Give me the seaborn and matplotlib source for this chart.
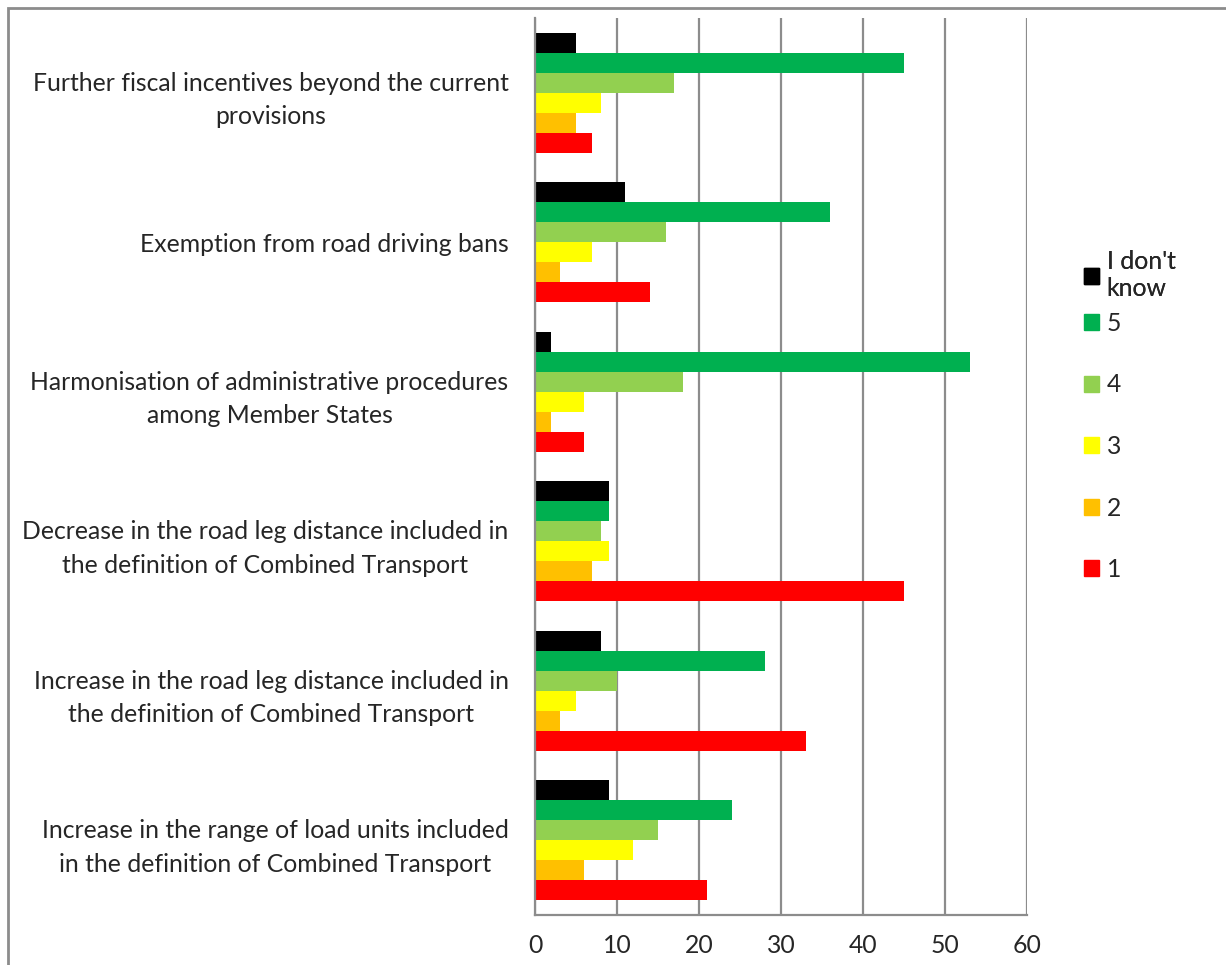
import matplotlib
matplotlib.use("Agg")
import matplotlib.pyplot as plt
import matplotlib.patches as mpatches
import seaborn as sns
import pandas as pd

# Survey measures (top to bottom) and the answer scale
measures = [
    "Further fiscal incentives beyond the current\nprovisions",
    "Exemption from road driving bans",
    "Harmonisation of administrative procedures\namong Member States",
    "Decrease in the road leg distance included in\nthe definition of Combined Transport",
    "Increase in the road leg distance included in\nthe definition of Combined Transport",
    "Increase in the range of load units included\nin the definition of Combined Transport",
]
answers = ["I don't know", "5", "4", "3", "2", "1"]
legend_labels = ["I don't\nknow", "5", "4", "3", "2", "1"]

# Number of responses per measure for each answer
dont_know = [5, 11, 2, 9, 8, 9]
score_5 = [45, 36, 53, 9, 28, 24]
score_4 = [17, 16, 18, 8, 10, 15]
score_3 = [8, 7, 6, 9, 5, 12]
score_2 = [5, 3, 2, 7, 3, 6]
score_1 = [7, 14, 6, 45, 33, 21]

colors = ["#000000", "#00B050", "#92D050", "#FFFF00", "#FFC000", "#FF0000"]

series = [dont_know, score_5, score_4, score_3, score_2, score_1]
rows = []
for ans, vals in zip(answers, series):
    for m, v in zip(measures, vals):
        rows.append({"measure": m, "answer": ans, "count": v})
df = pd.DataFrame(rows)

sns.set_theme(style="white")
plt.rcParams["font.family"] = ["Lato", "DejaVu Sans"]
FS = 17.8

fig = plt.figure(figsize=(12.26, 9.65), dpi=100)
ax = fig.add_axes([535 / 1226, 1 - 915 / 965, (1027 - 535) / 1226, (915 - 18) / 965])

sns.barplot(data=df, y="measure", x="count", hue="answer", order=measures,
            hue_order=answers, palette=colors, orient="h", width=0.8,
            saturation=1, edgecolor="none", linewidth=0, ax=ax, legend=False)

ax.set_xlim(0, 60)
ax.set_ylim(len(measures) - 0.5, -0.5)
ax.set_xticks(range(0, 61, 10))
ax.set_xlabel("")
ax.set_ylabel("")
ax.xaxis.grid(True, color="#8C8C8C", linewidth=1.6)
ax.set_axisbelow(True)

for side in ["top", "right"]:
    ax.spines[side].set_visible(False)
for side in ["left", "bottom"]:
    ax.spines[side].set_color("#8C8C8C")
    ax.spines[side].set_linewidth(1.6)

# Category labels: right-aligned blocks with centred lines; separator ticks between bands
ax.tick_params(axis="y", which="major", length=0, pad=19, labelsize=FS)
for lbl in ax.get_yticklabels():
    lbl.set_horizontalalignment("right")
    lbl.set_multialignment("center")
    lbl.set_linespacing(1.55)
ax.set_yticks([i + 0.5 for i in range(-1, len(measures))], minor=True)
ax.tick_params(axis="y", which="minor", length=8, width=1.6, color="#8C8C8C", direction="out")
ax.tick_params(axis="x", which="major", length=8, width=1.6, color="#8C8C8C",
               direction="out", labelsize=FS, pad=6)

handles = [mpatches.Patch(color=c) for c in colors]
legend_kw = dict(frameon=False, fontsize=FS, handlelength=0.62, handleheight=0.62,
                 handletextpad=0.3, borderpad=0, borderaxespad=0)
leg_top = fig.legend(handles[:1], legend_labels[:1], loc="center left",
                     bbox_to_anchor=(1084 / 1226, 1 - 275 / 965), **legend_kw)
fig.add_artist(leg_top)
fig.legend(handles[1:], legend_labels[1:], loc="center left",
           bbox_to_anchor=(1084 / 1226, 1 - 446.5 / 965), labelspacing=1.56, **legend_kw)

# Chart frame
fig.patches.append(mpatches.Rectangle((8 / 1226, -0.05), 1.1, 1 - 8 / 965 + 0.05,
                                      transform=fig.transFigure, fill=False,
                                      edgecolor="#8C8C8C", linewidth=2))

fig.savefig("out.png", dpi=100)
